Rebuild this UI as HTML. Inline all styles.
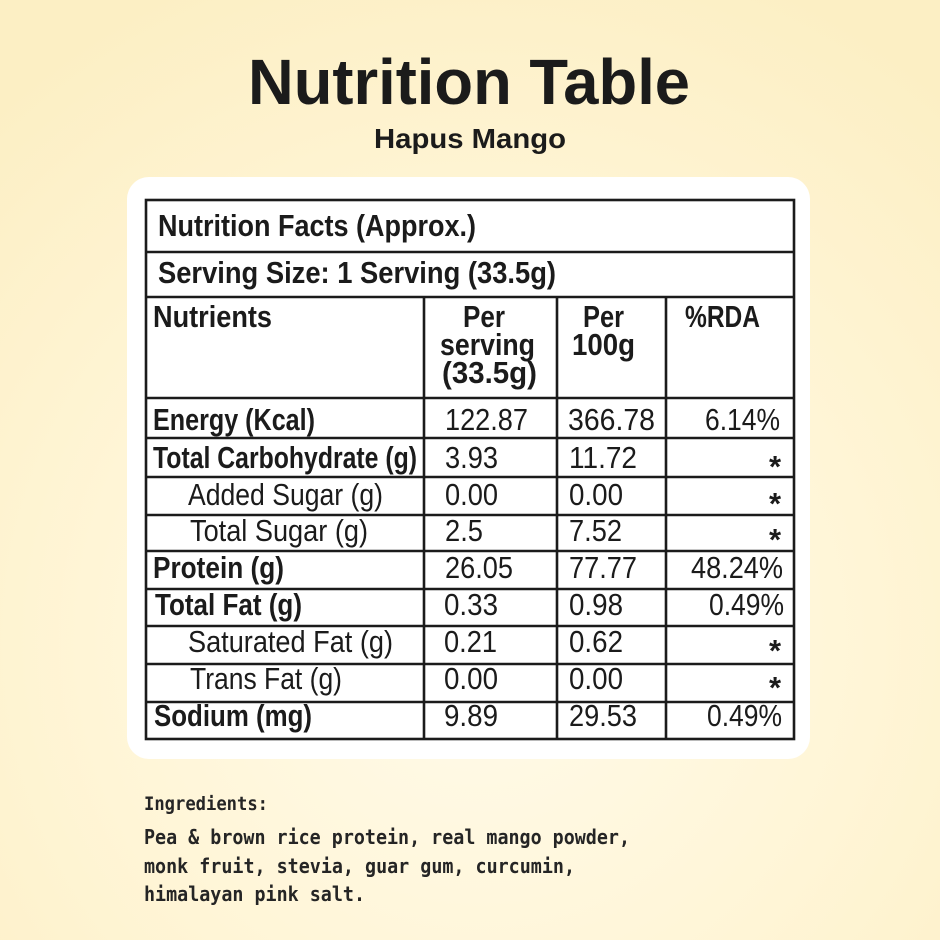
<!DOCTYPE html>
<html>
<head>
<meta charset="utf-8">
<style>
  html,body{margin:0;padding:0;}
  body{width:940px;height:940px;overflow:hidden;}
  svg{display:block;}
  .b{font-family:"Liberation Sans",sans-serif;font-weight:bold;fill:#1b1b1b;}
  .r{font-family:"Liberation Sans",sans-serif;font-weight:normal;fill:#1b1b1b;}
  .m{font-family:"DejaVu Sans Mono","Liberation Mono",monospace;font-weight:bold;fill:#252525;}
</style>
</head>
<body>
<svg width="940" height="940" viewBox="0 0 940 940" xmlns="http://www.w3.org/2000/svg">
  <defs>
    <radialGradient id="bg" cx="480" cy="640" r="720" gradientUnits="userSpaceOnUse">
      <stop offset="0" stop-color="#fffbea"/>
      <stop offset="0.55" stop-color="#fff5d6"/>
      <stop offset="1" stop-color="#fcefc4"/>
    </radialGradient>
  </defs>
  <rect x="0" y="0" width="940" height="940" fill="url(#bg)"/>

  <!-- Title -->
  <text class="b" x="248" y="104" font-size="64" textLength="442" lengthAdjust="spacingAndGlyphs">Nutrition Table</text>
  <text class="b" x="374" y="148" font-size="28" textLength="192" lengthAdjust="spacingAndGlyphs">Hapus Mango</text>

  <!-- Card -->
  <rect x="127" y="177" width="683" height="582" rx="22" ry="22" fill="#ffffff"/>

  <!-- Table lines -->
  <g stroke="#1b1b1b" stroke-width="2.6" fill="none">
    <rect x="146" y="200" width="648" height="539"/>
    <line x1="146" y1="252" x2="794" y2="252"/>
    <line x1="146" y1="297" x2="794" y2="297"/>
    <line x1="146" y1="398" x2="794" y2="398"/>
    <line x1="146" y1="438" x2="794" y2="438"/>
    <line x1="146" y1="477" x2="794" y2="477"/>
    <line x1="146" y1="515" x2="794" y2="515"/>
    <line x1="146" y1="551" x2="794" y2="551"/>
    <line x1="146" y1="589" x2="794" y2="589"/>
    <line x1="146" y1="626" x2="794" y2="626"/>
    <line x1="146" y1="664" x2="794" y2="664"/>
    <line x1="146" y1="702" x2="794" y2="702"/>
    <line x1="424" y1="297" x2="424" y2="739"/>
    <line x1="557" y1="297" x2="557" y2="739"/>
    <line x1="666" y1="297" x2="666" y2="739"/>
  </g>

  <!-- Header texts -->
  <text class="b" x="158" y="236" font-size="31" textLength="318" lengthAdjust="spacingAndGlyphs">Nutrition Facts (Approx.)</text>
  <text class="b" x="158" y="283" font-size="31" textLength="398" lengthAdjust="spacingAndGlyphs">Serving Size: 1 Serving (33.5g)</text>
  <text class="b" x="153" y="327" font-size="31" textLength="119" lengthAdjust="spacingAndGlyphs">Nutrients</text>

  <text class="b" x="463" y="327" font-size="31" textLength="42" lengthAdjust="spacingAndGlyphs">Per</text>
  <text class="b" x="440" y="355" font-size="31" textLength="95" lengthAdjust="spacingAndGlyphs">serving</text>
  <text class="b" x="442" y="383" font-size="31" textLength="95" lengthAdjust="spacingAndGlyphs">(33.5g)</text>

  <text class="b" x="583" y="327" font-size="31" textLength="41" lengthAdjust="spacingAndGlyphs">Per</text>
  <text class="b" x="572" y="355" font-size="31" textLength="63" lengthAdjust="spacingAndGlyphs">100g</text>

  <text class="b" x="685" y="327" font-size="31" textLength="75" lengthAdjust="spacingAndGlyphs">%RDA</text>

  <!-- Row labels -->
  <text class="b" x="153" y="430" font-size="31" textLength="162" lengthAdjust="spacingAndGlyphs">Energy (Kcal)</text>
  <text class="b" x="153" y="468" font-size="31" textLength="264" lengthAdjust="spacingAndGlyphs">Total Carbohydrate (g)</text>
  <text class="r" x="188" y="505" font-size="31" textLength="195" lengthAdjust="spacingAndGlyphs">Added Sugar (g)</text>
  <text class="r" x="190" y="541" font-size="31" textLength="178" lengthAdjust="spacingAndGlyphs">Total Sugar (g)</text>
  <text class="b" x="153" y="578" font-size="31" textLength="131" lengthAdjust="spacingAndGlyphs">Protein (g)</text>
  <text class="b" x="155" y="615" font-size="31" textLength="147" lengthAdjust="spacingAndGlyphs">Total Fat (g)</text>
  <text class="r" x="188" y="652" font-size="31" textLength="205" lengthAdjust="spacingAndGlyphs">Saturated Fat (g)</text>
  <text class="r" x="190" y="689" font-size="31" textLength="152" lengthAdjust="spacingAndGlyphs">Trans Fat (g)</text>
  <text class="b" x="154" y="726" font-size="31" textLength="158" lengthAdjust="spacingAndGlyphs">Sodium (mg)</text>

  <!-- Column 2 -->
  <text class="r" x="445" y="430" font-size="31" textLength="83" lengthAdjust="spacingAndGlyphs">122.87</text>
  <text class="r" x="445" y="468" font-size="31" textLength="53" lengthAdjust="spacingAndGlyphs">3.93</text>
  <text class="r" x="445" y="505" font-size="31" textLength="53" lengthAdjust="spacingAndGlyphs">0.00</text>
  <text class="r" x="445" y="541" font-size="31" textLength="38" lengthAdjust="spacingAndGlyphs">2.5</text>
  <text class="r" x="445" y="578" font-size="31" textLength="68" lengthAdjust="spacingAndGlyphs">26.05</text>
  <text class="r" x="444" y="615" font-size="31" textLength="54" lengthAdjust="spacingAndGlyphs">0.33</text>
  <text class="r" x="444" y="652" font-size="31" textLength="53" lengthAdjust="spacingAndGlyphs">0.21</text>
  <text class="r" x="444" y="689" font-size="31" textLength="54" lengthAdjust="spacingAndGlyphs">0.00</text>
  <text class="r" x="444" y="726" font-size="31" textLength="54" lengthAdjust="spacingAndGlyphs">9.89</text>

  <!-- Column 3 -->
  <text class="r" x="568" y="430" font-size="31" textLength="87" lengthAdjust="spacingAndGlyphs">366.78</text>
  <text class="r" x="569" y="468" font-size="31" textLength="68" lengthAdjust="spacingAndGlyphs">11.72</text>
  <text class="r" x="569" y="505" font-size="31" textLength="54" lengthAdjust="spacingAndGlyphs">0.00</text>
  <text class="r" x="569" y="541" font-size="31" textLength="53" lengthAdjust="spacingAndGlyphs">7.52</text>
  <text class="r" x="569" y="578" font-size="31" textLength="68" lengthAdjust="spacingAndGlyphs">77.77</text>
  <text class="r" x="569" y="615" font-size="31" textLength="54" lengthAdjust="spacingAndGlyphs">0.98</text>
  <text class="r" x="569" y="652" font-size="31" textLength="54" lengthAdjust="spacingAndGlyphs">0.62</text>
  <text class="r" x="569" y="689" font-size="31" textLength="54" lengthAdjust="spacingAndGlyphs">0.00</text>
  <text class="r" x="569" y="726" font-size="31" textLength="68" lengthAdjust="spacingAndGlyphs">29.53</text>

  <!-- Column 4 -->
  <text class="r" x="705" y="430" font-size="31" textLength="75" lengthAdjust="spacingAndGlyphs">6.14%</text>
  <text class="b" x="769" y="477" font-size="31">*</text>
  <text class="b" x="769" y="514" font-size="31">*</text>
  <text class="b" x="769" y="550" font-size="31">*</text>
  <text class="r" x="691" y="578" font-size="31" textLength="92" lengthAdjust="spacingAndGlyphs">48.24%</text>
  <text class="r" x="709" y="615" font-size="31" textLength="75" lengthAdjust="spacingAndGlyphs">0.49%</text>
  <text class="b" x="769" y="661" font-size="31">*</text>
  <text class="b" x="769" y="698" font-size="31">*</text>
  <text class="r" x="707" y="726" font-size="31" textLength="75" lengthAdjust="spacingAndGlyphs">0.49%</text>

  <!-- Ingredients -->
  <text class="m" x="144" y="810" font-size="19" textLength="124" lengthAdjust="spacingAndGlyphs">Ingredients:</text>
  <text class="m" x="144" y="844" font-size="20" textLength="486" lengthAdjust="spacingAndGlyphs">Pea &amp; brown rice protein, real mango powder,</text>
  <text class="m" x="144" y="873" font-size="20" textLength="431" lengthAdjust="spacingAndGlyphs">monk fruit, stevia, guar gum, curcumin,</text>
  <text class="m" x="144" y="901" font-size="20" textLength="221" lengthAdjust="spacingAndGlyphs">himalayan pink salt.</text>
</svg>
</body>
</html>
